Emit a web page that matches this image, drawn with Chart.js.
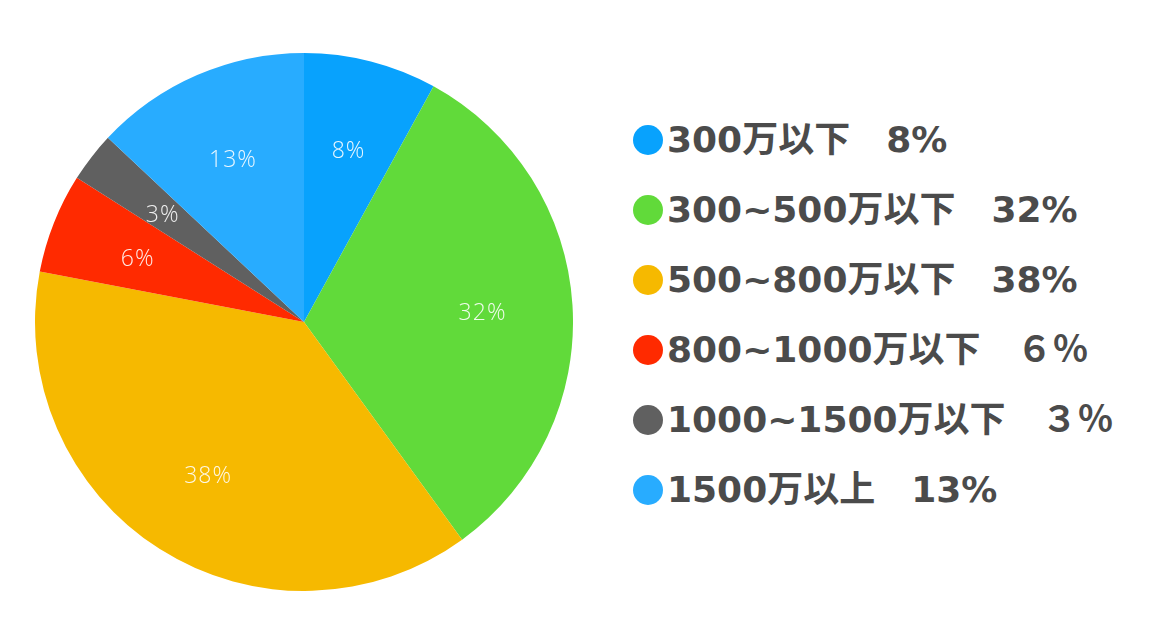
<!DOCTYPE html>
<html>
<head>
  <meta charset="UTF-8">
  <title>年収分布</title>
  <script src="https://cdn.jsdelivr.net/npm/chart.js"></script>
  <style>
    body { margin: 0; background: #fff; width: 1174px; height: 634px; position: relative; overflow: hidden; }
    #pieBox { position: absolute; left: 35px; top: 53px; width: 538px; height: 538px; }
    #legend { position: absolute; left: 633px; top: 105px; font-family: "DejaVu Sans", "Noto Sans CJK JP", sans-serif; font-weight: 700; font-size: 36px; color: #4b4b4b; }
    .row { height: 70px; display: flex; align-items: center; white-space: pre; }
    .dot { width: 30px; height: 30px; border-radius: 50%; margin-right: 4px; flex: none; }
    .txt { line-height: 70px; }
  </style>
</head>
<body>
<div id="pieBox"><canvas id="incomeChart"></canvas></div>
<div id="legend"></div>

<script>
  // 年収区分と割合
  var categories = ['300万以下', '300~500万以下', '500~800万以下', '800~1000万以下', '1000~1500万以下', '1500万以上'];
  var shares = [8, 32, 38, 6, 3, 13];
  var legendPct = ['8%', '32%', '38%', '６％', '３％', '13%'];
  var colors = ['#08A2FD', '#61DA3A', '#F6B900', '#FF2A00', '#606060', '#28ACFF'];

  // 凡例
  var legend = document.getElementById('legend');
  categories.forEach(function(c, i) {
    var row = document.createElement('div');
    row.className = 'row';
    row.innerHTML = '<span class="dot" style="background:' + colors[i] + '"></span>' +
      '<span class="txt">' + c + '\u3000' + legendPct[i] + '</span>';
    legend.appendChild(row);
  });

  // スライス上のパーセント表示
  var sliceLabels = {
    id: 'sliceLabels',
    afterDatasetsDraw: function(chart) {
      var ctx = chart.ctx;
      var meta = chart.getDatasetMeta(0);
      ctx.save();
      ctx.font = '300 23px "Open Sans", sans-serif';
      ctx.letterSpacing = '1px';
      ctx.fillStyle = 'rgba(255,255,255,0.9)';
      ctx.textAlign = 'center';
      ctx.textBaseline = 'middle';
      meta.data.forEach(function(arc, i) {
        var a = (arc.startAngle + arc.endAngle) / 2;
        var r = arc.outerRadius * 0.665;
        ctx.fillText(shares[i] + '%', arc.x + Math.cos(a) * r, arc.y + Math.sin(a) * r + 3);
      });
      ctx.restore();
    }
  };

  var ctx = document.getElementById('incomeChart').getContext('2d');
  var incomeChart = new Chart(ctx, {
    type: 'pie',
    data: {
      labels: categories,
      datasets: [{
        data: shares,
        backgroundColor: colors,
        borderWidth: 0
      }]
    },
    options: {
      responsive: true,
      maintainAspectRatio: false,
      animation: false,
      plugins: {
        legend: { display: false },
        tooltip: { enabled: false }
      }
    },
    plugins: [sliceLabels]
  });
</script>
</body>
</html>
